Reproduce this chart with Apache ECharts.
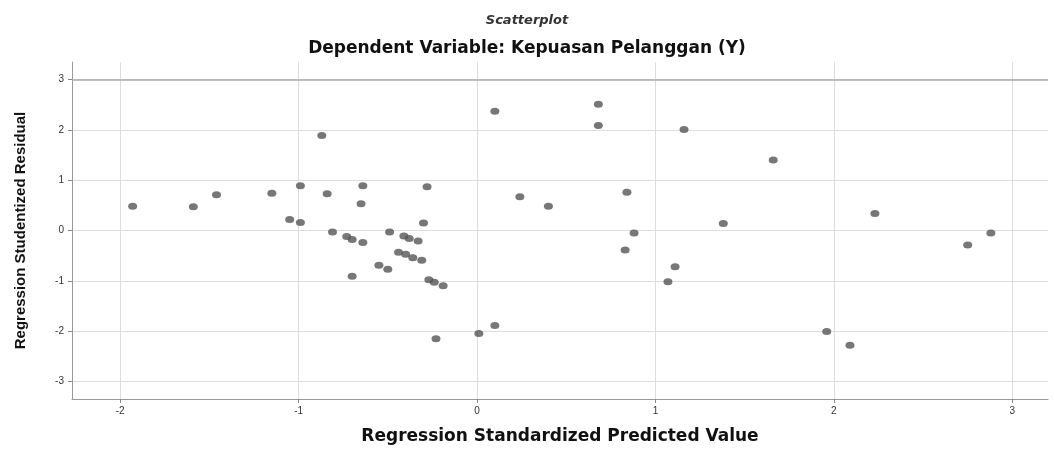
<!DOCTYPE html>
<html><head><meta charset="utf-8">
<script src="https://cdn.jsdelivr.net/npm/echarts@6/dist/echarts.min.js"></script>
<style>html,body{margin:0;padding:0;background:#fff}#c{width:1054px;height:450px}</style>
</head><body><div id="c"></div>
<script>
var predicted = [-1.93,-1.59,-1.46,-1.15,-1.05,-0.99,-0.99,-0.87,-0.84,-0.81,-0.73,-0.70,-0.64,-0.65,-0.64,-0.70,-0.55,-0.50,-0.49,-0.41,-0.38,-0.33,-0.44,-0.40,-0.36,-0.31,-0.30,-0.28,-0.27,-0.24,-0.19,-0.23,0.01,0.10,0.10,0.24,0.40,0.68,0.68,1.16,1.66,0.84,1.38,0.88,0.83,1.11,1.07,2.23,2.88,2.75,1.96,2.09];
var residual = [0.48,0.47,0.71,0.74,0.22,0.16,0.89,1.89,0.73,-0.03,-0.12,-0.18,0.89,0.53,-0.24,-0.91,-0.69,-0.77,-0.03,-0.11,-0.16,-0.21,-0.43,-0.47,-0.54,-0.59,0.15,0.87,-0.98,-1.03,-1.10,-2.15,-2.05,-1.89,2.37,0.67,0.48,2.51,2.09,2.01,1.40,0.76,0.14,-0.05,-0.39,-0.72,-1.02,0.34,-0.05,-0.29,-2.01,-2.28];
var xTicks = [-2,-1,0,1,2,3];
var yTicks = [-3,-2,-1,0,1,2,3];
var titleText = 'Scatterplot';
var subTitleText = 'Dependent Variable: Kepuasan Pelanggan (Y)';
var xName = 'Regression Standardized Predicted Value';
var yName = 'Regression Studentized Residual';

var pts = predicted.map(function(v,i){return [v, residual[i]];});
var chart = echarts.init(document.getElementById('c'));
chart.setOption({
  animation:false,
  title:[
    {text:titleText,left:'center',top:9,textStyle:{fontFamily:'DejaVu Sans',fontSize:13,fontWeight:'bold',fontStyle:'italic',color:'#333'}},
    {text:subTitleText,left:'center',top:35,textStyle:{fontFamily:'DejaVu Sans',fontSize:17,fontWeight:'bold',color:'#111'}}
  ],
  grid:{left:72,right:6,top:62,bottom:50},
  xAxis:{type:'value',min:-2.27,max:3.2,
    name:xName,nameLocation:'middle',nameGap:29,
    nameTextStyle:{fontFamily:'DejaVu Sans',fontSize:17,fontWeight:'bold',color:'#111'},
    axisLine:{show:true,onZero:false,lineStyle:{color:'#999',width:1}},
    axisTick:{show:true,customValues:xTicks,length:4,lineStyle:{color:'#888'}},
    axisLabel:{customValues:xTicks,fontFamily:'Liberation Sans',fontSize:10,color:'#333',margin:7},
    splitLine:{show:true,lineStyle:{color:'#ddd',width:1}}
  },
  yAxis:{type:'value',min:-3.35,max:3.35,
    name:yName,nameLocation:'middle',nameGap:44,nameRotate:90,
    nameTextStyle:{fontFamily:'Liberation Sans',fontSize:15,fontWeight:'bold',color:'#111'},
    axisLine:{show:true,onZero:false,lineStyle:{color:'#999',width:1}},
    axisTick:{show:true,customValues:yTicks,length:4,lineStyle:{color:'#888'}},
    axisLabel:{customValues:yTicks,fontFamily:'Liberation Sans',fontSize:10,color:'#333',margin:8},
    splitLine:{show:true,lineStyle:{color:'#ddd',width:1}}
  },
  series:[{type:'scatter',data:pts,symbol:'circle',symbolSize:[9,7],
    itemStyle:{color:'#555'},
    markLine:{silent:true,symbol:'none',label:{show:false},lineStyle:{color:'#aaa',type:'solid',width:1.5},data:[{yAxis:3}]}
  }]
});
</script></body></html>
